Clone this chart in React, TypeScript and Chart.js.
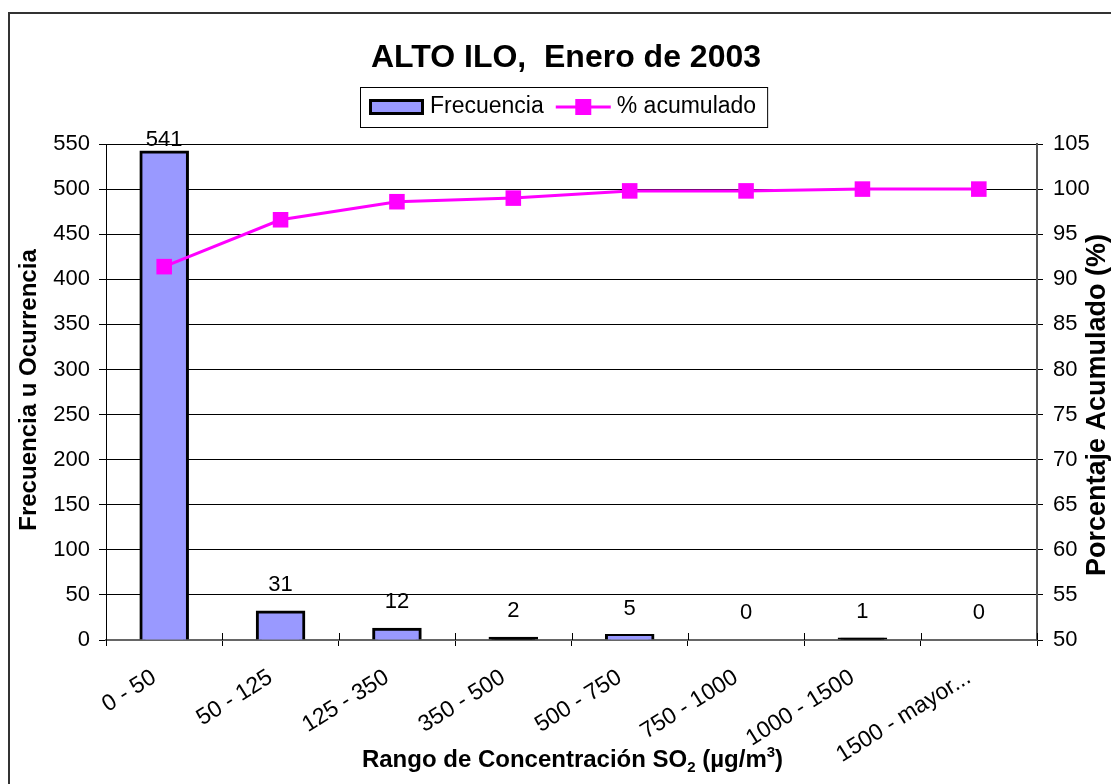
import { useEffect, useRef } from "react";
import { Chart, registerables } from "chart.js";

Chart.register(...registerables);

const FONT = '"Liberation Sans", Arial, Helvetica, sans-serif';

const chartTitle = "ALTO ILO,  Enero de 2003";
const categories = [
  "0 - 50",
  "50 - 125",
  "125 - 350",
  "350 - 500",
  "500 - 750",
  "750 - 1000",
  "1000 - 1500",
  "1500 - mayor...",
];
const frecuencia = [541, 31, 12, 2, 5, 0, 1, 0];
const acumulado = [91.4, 96.6, 98.6, 99.0, 99.8, 99.8, 100.0, 100.0];
const leftAxisRange = [0, 550, 50];
const rightAxisRange = [50, 105, 5];
const seriesNames = ["Frecuencia", "% acumulado"];
const leftTitle = "Frecuencia u Ocurrencia";
const rightTitle = "Porcentaje Acumulado (%)";

const BAR_FILL = "#9999FF";
const LINE_COLOR = "#FF00FF";

const W = 1111;
const H = 784;

const decorPlugin = {
  id: "decor",
  beforeDraw(chart: any) {
    const ctx = chart.ctx;
    ctx.save();
    ctx.fillStyle = "#fff";
    ctx.fillRect(0, 0, chart.width, chart.height);
    ctx.restore();
  },
  afterDatasetsDraw(chart: any) {
    const ctx = chart.ctx;
    const area = chart.chartArea;
    const meta = chart.getDatasetMeta(1);
    ctx.save();
    ctx.fillStyle = "#000";
    ctx.font = `22px ${FONT}`;
    ctx.textAlign = "center";
    ctx.textBaseline = "middle";
    meta.data.forEach((el: any, i: number) => {
      const y = Math.max(el.y - 27, area.top - 4);
      ctx.fillText(String(frecuencia[i]), el.x, y);
    });
    ctx.restore();
  },
  afterDraw(chart: any) {
    const ctx = chart.ctx;
    const area = chart.chartArea;
    ctx.save();

    // outer frame
    ctx.strokeStyle = "#333";
    ctx.lineWidth = 2;
    ctx.beginPath();
    ctx.moveTo(9, H);
    ctx.lineTo(9, 13);
    ctx.lineTo(W, 13);
    ctx.stroke();

    // inner part of crossing tick marks on x axis
    const xs = chart.scales.x;
    ctx.strokeStyle = "#000";
    ctx.lineWidth = 1;
    for (let i = 0; i <= categories.length; i++) {
      const x = Math.round(xs.getPixelForValue(i - 0.5)) + 0.5;
      ctx.beginPath();
      ctx.moveTo(x, area.bottom - 7);
      ctx.lineTo(x, area.bottom);
      ctx.stroke();
    }

    // title
    ctx.fillStyle = "#000";
    ctx.font = `bold 32px ${FONT}`;
    ctx.textAlign = "center";
    ctx.textBaseline = "alphabetic";
    ctx.fillText(chartTitle, 566, 67);

    // legend
    ctx.font = `23px ${FONT}`;
    ctx.textAlign = "left";
    ctx.textBaseline = "middle";
    const ly = 107;
    const w1 = ctx.measureText(seriesNames[0]).width;
    const w2 = ctx.measureText(seriesNames[1]).width;
    const total = 9 + 55 + 6 + w1 + 12 + 55 + 6 + w2 + 11;
    const lx = Math.round(563.5 - total / 2);
    ctx.strokeStyle = "#000";
    ctx.lineWidth = 1;
    ctx.strokeRect(lx + 0.5, 87.5, total, 40);
    let cx = lx + 9;
    ctx.fillStyle = BAR_FILL;
    ctx.fillRect(cx, 99, 55, 16);
    ctx.lineWidth = 3;
    ctx.strokeRect(cx + 1.5, 100.5, 52, 13);
    cx += 55 + 6;
    ctx.fillStyle = "#000";
    ctx.fillText(seriesNames[0], cx, ly);
    cx += w1 + 12;
    ctx.strokeStyle = LINE_COLOR;
    ctx.lineWidth = 3;
    ctx.beginPath();
    ctx.moveTo(cx, ly);
    ctx.lineTo(cx + 55, ly);
    ctx.stroke();
    ctx.fillStyle = LINE_COLOR;
    ctx.fillRect(cx + 27.5 - 8, ly - 8, 16, 16);
    cx += 55 + 6;
    ctx.fillStyle = "#000";
    ctx.fillText(seriesNames[1], cx, ly);

    // left axis title
    ctx.font = `bold 24px ${FONT}`;
    ctx.textAlign = "center";
    ctx.textBaseline = "middle";
    ctx.save();
    ctx.translate(29, 390);
    ctx.rotate(-Math.PI / 2);
    ctx.fillText(leftTitle, 0, 0);
    ctx.restore();

    // right axis title
    ctx.font = `bold 27px ${FONT}`;
    ctx.save();
    ctx.translate(1098, 405);
    ctx.rotate(-Math.PI / 2);
    ctx.fillText(rightTitle, 0, 0);
    ctx.restore();

    // x axis title with sub/superscript
    const big = `bold 24px ${FONT}`;
    const small = `bold 15px ${FONT}`;
    const parts: [string, string, number][] = [
      ["Rango de Concentración SO", big, 0],
      ["2", small, 5],
      [" (µg/m", big, 0],
      ["3", small, -10],
      [")", big, 0],
    ];
    let tw = 0;
    for (const [t, f] of parts) {
      ctx.font = f;
      tw += ctx.measureText(t).width;
    }
    let tx = 572.5 - tw / 2;
    ctx.textAlign = "left";
    ctx.textBaseline = "alphabetic";
    for (const [t, f, dy] of parts) {
      ctx.font = f;
      ctx.fillText(t, tx, 767 + dy);
      tx += ctx.measureText(t).width;
    }

    ctx.restore();
  },
};

export default function App() {
  const ref = useRef<HTMLCanvasElement | null>(null);

  useEffect(() => {
    if (!ref.current) return;
    const chart = new Chart(ref.current, {
      type: "bar",
      data: {
        labels: categories,
        datasets: [
          {
            type: "line",
            label: seriesNames[1],
            data: acumulado,
            yAxisID: "y1",
            borderColor: LINE_COLOR,
            backgroundColor: LINE_COLOR,
            borderWidth: 3,
            pointStyle: "rect",
            pointRadius: 11,
            pointBorderWidth: 0,
            pointBackgroundColor: LINE_COLOR,
            tension: 0,
            order: 0,
          } as any,
          {
            type: "bar",
            label: seriesNames[0],
            data: frecuencia,
            yAxisID: "y",
            backgroundColor: (c: any) => (c.raw > 0 && c.raw <= 2 ? "#000" : BAR_FILL),
            borderColor: "#000",
            borderWidth: 3,
            inflateAmount: (c: any) => (c.raw === 0 ? 0 : 1.5),
            barPercentage: 0.4,
            categoryPercentage: 1,
            order: 1,
          } as any,
        ],
      },
      options: {
        responsive: false,
        animation: false,
        layout: { padding: { top: 144, left: 0, right: 0, bottom: 0 } },
        plugins: {
          legend: { display: false },
          title: { display: false },
          tooltip: { enabled: false },
        },
        scales: {
          x: {
            offset: true,
            grid: {
              offset: true,
              drawOnChartArea: false,
              drawTicks: true,
              tickLength: 6,
              color: "#000",
            },
            border: { display: true, color: "#666", width: 2 },
            ticks: {
              autoSkip: false,
              minRotation: 32,
              maxRotation: 32,
              padding: 18,
              labelOffset: -10,
              color: "#000",
              font: { family: FONT, size: 23 },
            },
            afterFit: (s: any) => {
              s.height = H - 640;
            },
          },
          y: {
            position: "left",
            min: leftAxisRange[0],
            max: leftAxisRange[1],
            ticks: {
              stepSize: leftAxisRange[2],
              padding: 9,
              color: "#000",
              font: { family: FONT, size: 22 },
            },
            grid: { color: "#000", lineWidth: 1, tickLength: 7 },
            border: { display: true, color: "#000", width: 1 },
            afterFit: (s: any) => {
              s.width = 106;
            },
          },
          y1: {
            position: "right",
            min: rightAxisRange[0],
            max: rightAxisRange[1],
            ticks: {
              stepSize: rightAxisRange[2],
              padding: 10,
              color: "#000",
              font: { family: FONT, size: 22 },
            },
            grid: { drawOnChartArea: false, color: "#000", tickLength: 6 },
            border: { display: true, color: "#555", width: 2 },
            afterFit: (s: any) => {
              s.width = W - 1037;
            },
          },
        },
      } as any,
      plugins: [decorPlugin],
    });
    return () => chart.destroy();
  }, []);

  return (
    <div style={{ position: "absolute", left: 0, top: 0, width: W, height: H }}>
      <canvas ref={ref} width={W} height={H} style={{ display: "block" }} />
    </div>
  );
}
